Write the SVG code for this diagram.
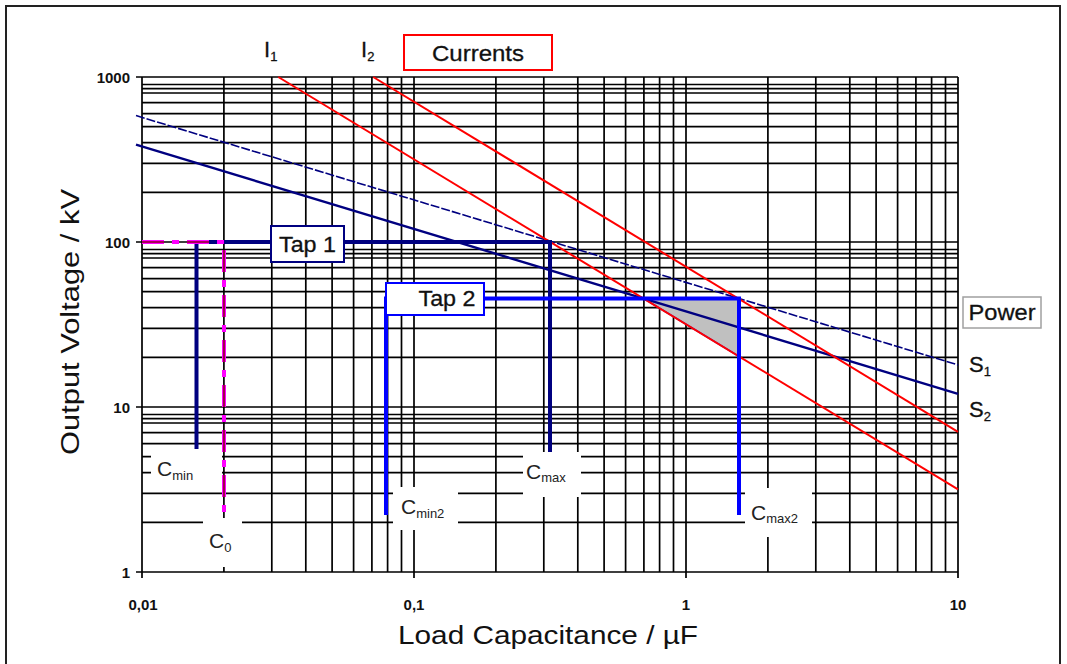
<svg xmlns="http://www.w3.org/2000/svg" width="1067" height="664" viewBox="0 0 1067 664">
<style>
.g{stroke:#000;stroke-width:1.7;fill:none}
.t{font-family:"Liberation Sans",Arial,sans-serif;fill:#111}
.tick{font-family:"Liberation Sans",Arial,sans-serif;font-weight:bold;font-size:15px;fill:#111}
.lbl{font-family:"Liberation Sans",Arial,sans-serif;font-size:22px;fill:#111;stroke:#111;stroke-width:0.3}
.cl{font-family:"Liberation Sans",Arial,sans-serif;font-size:21px;fill:#222}
.sub{font-size:13px}
.wh{fill:#fff;stroke:none}
</style>
<rect x="0" y="0" width="1067" height="664" fill="#fff"/>
<rect x="6" y="6" width="1054" height="680" fill="none" stroke="#222" stroke-width="2"/>
<g id="grid" class="g">
<path d="M142,77V572M223.9,77V572M271.8,77V572M305.8,77V572M332.1,77V572M353.6,77V572M371.9,77V572M387.6,77V572M401.5,77V572M414,77V578M495.9,77V572M543.8,77V572M577.8,77V572M604.1,77V572M625.6,77V572M643.9,77V572M659.6,77V572M673.5,77V572M686,77V578M767.9,77V572M815.8,77V572M849.8,77V572M876.1,77V572M897.6,77V572M915.9,77V572M931.6,77V572M945.5,77V572M958,77V578M142,572V578"/>
<path d="M136,77H958M142,84.5H958M142,88.6H958M142,93H958M142,102.6H958M142,113.6H958M142,126.7H958M142,142.7H958M142,163.3H958M142,192.3H958M136,242H958M142,249.5H958M142,253.6H958M142,258H958M142,267.6H958M142,278.6H958M142,291.7H958M142,307.7H958M142,328.3H958M142,357.3H958M136,407H958M142,414.5H958M142,418.6H958M142,423H958M142,432.6H958M142,443.6H958M142,456.7H958M142,472.7H958M142,493.3H958M142,522.3H958M136,572H958"/>
</g>
<g id="label-gaps">
<rect class="wh" x="151" y="447" width="71" height="42"/>
<rect class="wh" x="203" y="518" width="39" height="49"/>
<rect class="wh" x="393" y="487" width="65" height="43"/>
<rect class="wh" x="523" y="452" width="58" height="45"/>
<rect class="wh" x="745" y="488" width="67" height="49"/>
</g>
<g id="connectors">
<polygon id="area" points="643.5,298.5 739,298.5 739,356.5" fill="#c0c0c0" stroke="#0000ff" stroke-width="1.5"/>
<line id="S1" x1="136" y1="115.6" x2="958" y2="364.9" stroke="#000080" stroke-width="1.6" stroke-dasharray="9 2"/>
<line id="S2" x1="136" y1="144.6" x2="958" y2="393.9" stroke="#000080" stroke-width="2.4"/>
<line id="I1" x1="278.3" y1="77" x2="958" y2="489.3" stroke="#ff0000" stroke-width="2"/>
<line id="I2" x1="373.2" y1="77" x2="958" y2="431.8" stroke="#ff0000" stroke-width="2"/>
<path id="tap1" d="M196.5,449V242H550V452" fill="none" stroke="#000080" stroke-width="4"/>
<path id="tap2" d="M386,515V298.5H739V515" fill="none" stroke="#0000ff" stroke-width="4"/>
<path id="c0" d="M142,242H224V517" fill="none" stroke="#ff00ff" stroke-width="4" stroke-dasharray="22 8 7 8"/>
<path d="M142,242H224V517" fill="none" stroke="#8b0020" stroke-width="1.6" stroke-dasharray="22 23"/>
</g>
<g id="ticks">
<text class="tick" x="130" y="83" text-anchor="end">1000</text>
<text class="tick" x="130" y="248" text-anchor="end">100</text>
<text class="tick" x="130" y="413" text-anchor="end">10</text>
<text class="tick" x="130" y="578" text-anchor="end">1</text>
<text class="tick" x="143" y="610" text-anchor="middle">0,01</text>
<text class="tick" x="414" y="610" text-anchor="middle">0,1</text>
<text class="tick" x="686" y="610" text-anchor="middle">1</text>
<text class="tick" x="958" y="610" text-anchor="middle">10</text>
</g>
<g id="axis-titles">
<text class="t" font-size="26" x="548" y="644" text-anchor="middle" textLength="300" lengthAdjust="spacingAndGlyphs">Load Capacitance / µF</text>
<text class="t" font-size="26" transform="translate(79,322) rotate(-90)" text-anchor="middle" textLength="266" lengthAdjust="spacingAndGlyphs">Output Voltage / kV</text>
</g>
<g id="node-tap1"><rect x="271" y="226" width="73" height="36" fill="#fff" stroke="#000080" stroke-width="2"/><text class="lbl" x="307.5" y="252" text-anchor="middle" textLength="57" lengthAdjust="spacingAndGlyphs">Tap 1</text></g>
<g id="node-tap2"><rect x="386" y="283" width="98" height="32" fill="#fff" stroke="#0000ff" stroke-width="2"/><text class="lbl" x="447" y="306" text-anchor="middle" textLength="57" lengthAdjust="spacingAndGlyphs">Tap 2</text></g>
<g id="node-currents"><rect x="404" y="35" width="148" height="35" fill="#fff" stroke="#ff0000" stroke-width="2"/><text class="lbl" x="478" y="61" text-anchor="middle" textLength="92" lengthAdjust="spacingAndGlyphs">Currents</text></g>
<g id="node-power"><rect x="963" y="297" width="78" height="31" fill="#fff" stroke="#a0a0a0" stroke-width="1.5"/><text class="lbl" x="1002" y="320" text-anchor="middle" textLength="67" lengthAdjust="spacingAndGlyphs">Power</text></g>
<g id="node-I1"><text class="lbl" x="264" y="57">I<tspan class="sub" dy="4">1</tspan></text></g>
<g id="node-I2"><text class="lbl" x="361" y="57">I<tspan class="sub" dy="4">2</tspan></text></g>
<g id="node-S1"><text class="lbl" x="969" y="372">S<tspan class="sub" dy="4">1</tspan></text></g>
<g id="node-S2"><text class="lbl" x="969" y="417">S<tspan class="sub" dy="4">2</tspan></text></g>
<g id="node-cmin"><text class="cl" x="157" y="476">C<tspan class="sub" dy="4">min</tspan></text></g>
<g id="node-c0"><text class="cl" x="209" y="548">C<tspan class="sub" dy="4">0</tspan></text></g>
<g id="node-cmax"><text class="cl" x="526" y="479">C<tspan class="sub" dy="3">max</tspan></text></g>
<g id="node-cmin2"><text class="cl" x="401" y="514">C<tspan class="sub" dy="4">min2</tspan></text></g>
<g id="node-cmax2"><text class="cl" x="751" y="520">C<tspan class="sub" dy="3">max2</tspan></text></g>
</svg>
